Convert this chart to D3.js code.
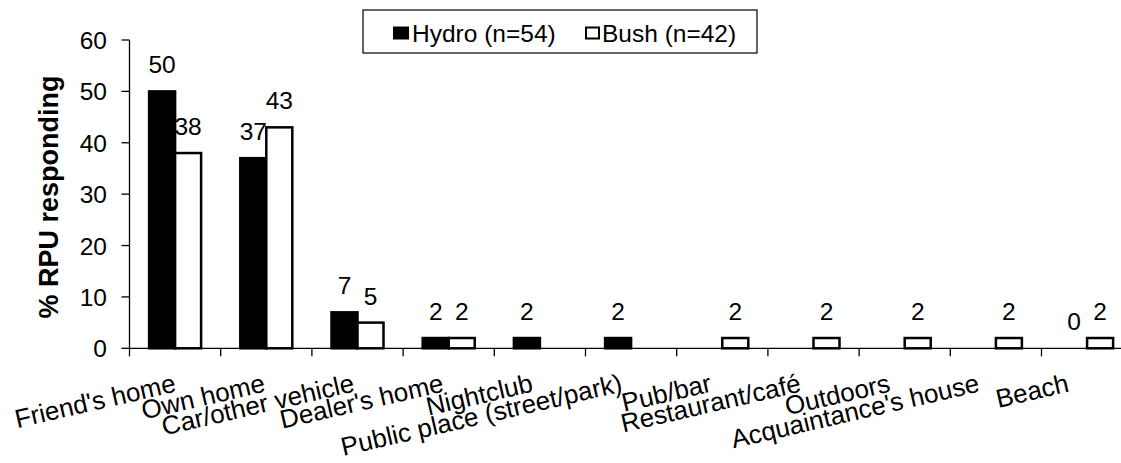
<!DOCTYPE html>
<html>
<head>
<meta charset="utf-8">
<script src="https://cdn.jsdelivr.net/npm/d3@7/dist/d3.min.js"></script>
<style>
  html, body { margin: 0; padding: 0; background: #fff; }
  svg { display: block; }
  text { font-family: "Liberation Sans", Arial, sans-serif; fill: #000; }
</style>
</head>
<body>
<svg id="chart" width="1121" height="463"></svg>
<script>
// Where respondents used the drug, by sample
const categories = ["Friend's home", "Own home", "Car/other vehicle", "Dealer's home", "Nightclub",
  "Public place (street/park)", "Pub/bar", "Restaurant/café", "Outdoors", "Acquaintance's house", "Beach"];
const hydro = [50, 37, 7, 2, 2, 2, null, null, null, null, 0];
const bush  = [38, 43, 5, 2, null, null, 2, 2, 2, 2, 2];
const seriesNames = ["Hydro (n=54)", "Bush (n=42)"];
const yTicks = [0, 10, 20, 30, 40, 50, 60];
const yTitle = "% RPU responding";

const W = 1121, H = 463;
const FONT = 24.5;        // ticks, values, legend
const CAT_FONT = 26;      // category labels

const svg = d3.select("#chart");

const x = d3.scaleBand().domain(categories).range([129.5, 1132.7]).padding(0);
const xs = d3.scaleBand().domain(["hydro", "bush"]).range([0, x.bandwidth()])
  .paddingInner(0).paddingOuter(0.754);
const y = d3.scaleLinear().domain([0, 60]).range([348.3, 40]);
const labelX = d3.scalePoint().domain(categories).range([177, 1070]);

const rows = categories.map((c, i) => ({ cat: c, hydro: hydro[i], bush: bush[i] }));

// bars
const series = [
  { key: "hydro", fill: "#000" },
  { key: "bush", fill: "#fff" }
];
series.forEach(s => {
  const data = rows.filter(r => r[s.key] !== null);
  svg.append("g").selectAll("rect").data(data).join("rect")
    .attr("x", d => x(d.cat) + xs(s.key))
    .attr("y", d => y(d[s.key]))
    .attr("width", xs.bandwidth())
    .attr("height", d => y(0) - y(d[s.key]))
    .attr("fill", s.fill)
    .attr("stroke", "#000")
    .attr("stroke-width", 2.5)
    .attr("display", d => d[s.key] === 0 ? "none" : null);

  // value labels
  svg.append("g").selectAll("text").data(data).join("text")
    .attr("x", d => x(d.cat) + xs(s.key) + xs.bandwidth() / 2)
    .attr("y", d => y(d[s.key]) - 18)
    .attr("text-anchor", "middle")
    .style("font-size", FONT + "px")
    .text(d => d[s.key]);
});

// y axis
const yAxis = svg.append("g");
yAxis.append("line").attr("x1", 129.5).attr("x2", 129.5).attr("y1", y(60)).attr("y2", y(0))
  .attr("stroke", "#000").attr("stroke-width", 1.3);
yAxis.selectAll("line.tick").data(yTicks).join("line").attr("class", "tick")
  .attr("x1", 121.5).attr("x2", 129.5).attr("y1", d => y(d)).attr("y2", d => y(d))
  .attr("stroke", "#000").attr("stroke-width", 1.3);
yAxis.selectAll("text").data(yTicks).join("text")
  .attr("x", 107)
  .attr("y", d => y(d) + 9)
  .attr("text-anchor", "end")
  .style("font-size", FONT + "px")
  .text(d => d);

svg.append("text")
  .attr("transform", `translate(58,${(75 + 319) / 2}) rotate(-90)`)
  .attr("text-anchor", "middle")
  .style("font-size", "27px")
  .style("font-weight", "bold")
  .text(yTitle);

// x axis
const xAxis = svg.append("g");
xAxis.append("line").attr("x1", 129.5).attr("x2", W).attr("y1", y(0)).attr("y2", y(0))
  .attr("stroke", "#000").attr("stroke-width", 1.3);
const bounds = categories.map(c => x(c)).concat([x.range()[1]]);
xAxis.selectAll("line.tick").data(bounds).join("line").attr("class", "tick")
  .attr("x1", d => d).attr("x2", d => d).attr("y1", y(0)).attr("y2", y(0) + 8)
  .attr("stroke", "#000").attr("stroke-width", 1.3);
xAxis.selectAll("text").data(categories).join("text")
  .attr("transform", d => `translate(${labelX(d)},${y(0) + 43}) rotate(-13)`)
  .attr("text-anchor", "end")
  .style("font-size", CAT_FONT + "px")
  .text(d => d);

// legend
const lg = svg.append("g");
lg.append("rect").attr("x", 363).attr("y", 10).attr("width", 394).attr("height", 43)
  .attr("fill", "#fff").attr("stroke", "#000").attr("stroke-width", 1.2);
lg.append("rect").attr("x", 393).attr("y", 26.5).attr("width", 16).attr("height", 13).attr("fill", "#000");
lg.append("text").attr("x", 412).attr("y", 41.5)
  .style("font-size", FONT + "px").text(seriesNames[0]);
lg.append("rect").attr("x", 586).attr("y", 27.5).attr("width", 13).attr("height", 11)
  .attr("fill", "#fff").attr("stroke", "#000").attr("stroke-width", 2);
lg.append("text").attr("x", 602).attr("y", 41.5)
  .style("font-size", FONT + "px").text(seriesNames[1]);
</script>
</body>
</html>
